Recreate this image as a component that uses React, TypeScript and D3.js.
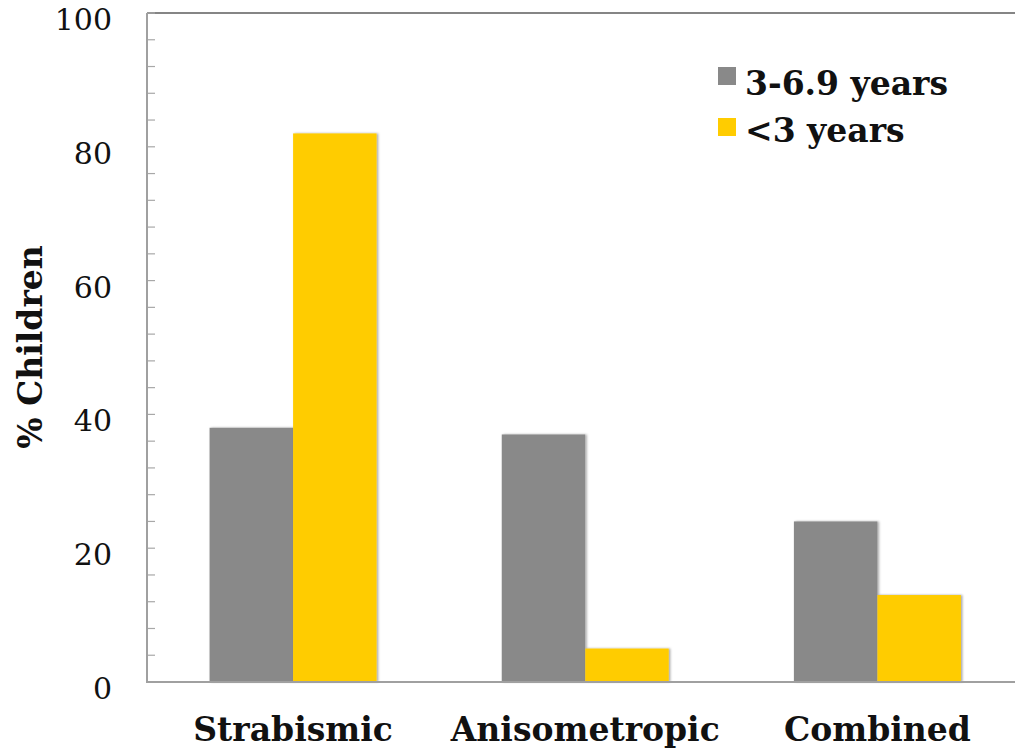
import React from "react";
import * as d3 from "d3";

const categories = ["Strabismic", "Anisometropic", "Combined"];
const seriesNames = ["3-6.9 years", "<3 years"];
const olderValues = [38, 37, 24];
const youngerValues = [82, 5, 13];
const yTicks = [0, 20, 40, 60, 80, 100];
const minorTicks = d3.range(0, 101, 4);
const colors = ["#898989", "#FFCC00"];

export default function App() {
  const W = 1015;
  const H = 752;
  const left = 147;
  const top = 13;
  const bottom = 682;
  const right = 1023.5;
  const y = d3.scaleLinear().domain([0, 100]).range([bottom, top]);
  const x0 = d3.scaleBand().domain(categories).range([left, right]).padding(0);
  const bw = x0.bandwidth();
  const barW = 83.5;
  const x1 = d3.scaleBand().domain(seriesNames).range([bw / 2 - barW, bw / 2 + barW]).padding(0);
  const values = [olderValues, youngerValues];
  const font = "'DejaVu Serif', Georgia, serif";

  return (
    <svg width={W} height={H} style={{ position: "absolute", left: 0, top: 0, background: "#fff" }}>
      <defs>
        <filter id="sh" x="-10%" y="-10%" width="130%" height="120%">
          <feDropShadow dx="1.5" dy="0" stdDeviation="0.8" floodColor="#000" floodOpacity="0.35" />
        </filter>
      </defs>
      {/* top border */}
      <line x1={left} x2={W} y1={top} y2={top} stroke="#858585" strokeWidth={2} />
      {/* bars */}
      {categories.map((c, i) => (
        <g key={c} transform={`translate(${x0(c)},0)`}>
          {seriesNames.map((s, j) => (
            <rect
              key={s}
              x={x1(s)}
              y={y(values[j][i])}
              width={x1.bandwidth()}
              height={y(0) - y(values[j][i])}
              fill={colors[j]}
              filter="url(#sh)"
            />
          ))}
        </g>
      ))}
      {/* minor ticks */}
      {minorTicks.map((t) => (
        <line key={t} x1={left} x2={left + 8} y1={y(t)} y2={y(t)} stroke="#a8a8a8" strokeWidth={1.2} />
      ))}
      {/* axes */}
      <line x1={left} x2={left} y1={top} y2={bottom} stroke="#a0a0a0" strokeWidth={2} />
      <line x1={left - 1} x2={W} y1={bottom} y2={bottom} stroke="#a0a0a0" strokeWidth={2} />
      {/* y tick labels */}
      {yTicks.map((t) => (
        <text key={t} x={112} y={y(t) + 17} textAnchor="end" fontFamily={font} fontSize={30} fill="#111">
          {t}
        </text>
      ))}
      {/* y axis title */}
      <text
        transform={`translate(42,347) rotate(-90)`}
        textAnchor="middle"
        fontFamily={font}
        fontWeight="bold"
        fontSize={33}
        fill="#111"
      >
        % Children
      </text>
      {/* category labels */}
      {categories.map((c) => (
        <text
          key={c}
          x={(x0(c) as number) + bw / 2}
          y={741}
          textAnchor="middle"
          fontFamily={font}
          fontWeight="bold"
          fontSize={33}
          fill="#111"
        >
          {c}
        </text>
      ))}
      {/* legend */}
      {seriesNames.map((s, j) => (
        <g key={s}>
          <rect x={718} y={67 + j * 51} width={18} height={18} fill={colors[j]} />
          <text x={745} y={95 + j * 47} fontFamily={font} fontWeight="bold" fontSize={33} fill="#111">
            {s}
          </text>
        </g>
      ))}
    </svg>
  );
}
